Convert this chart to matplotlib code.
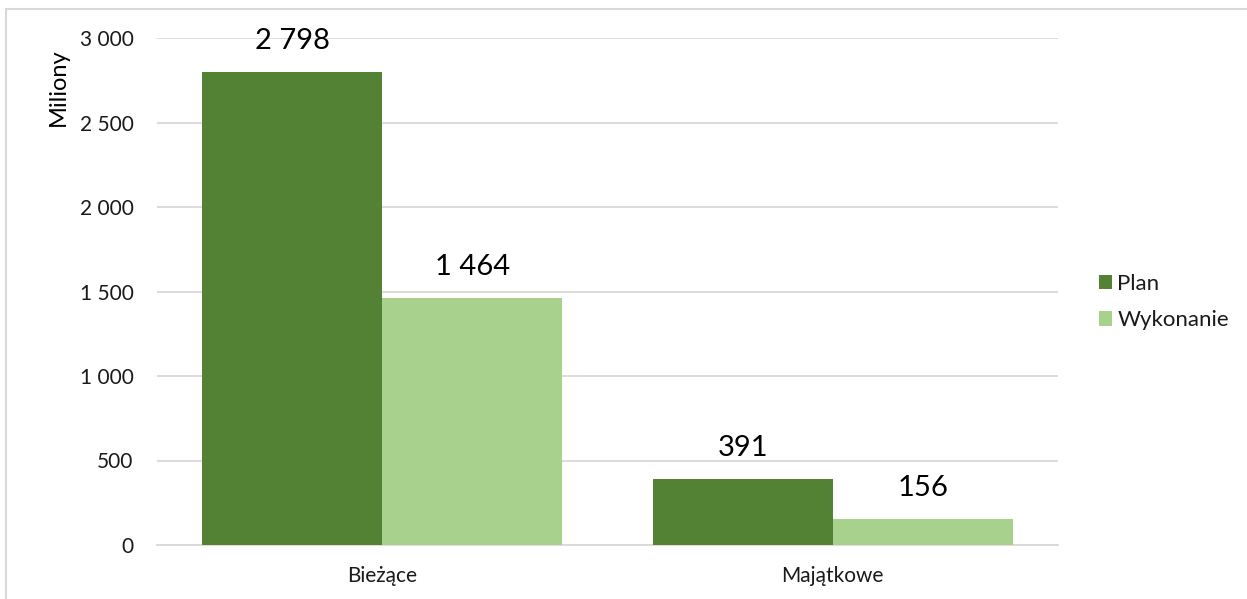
import matplotlib
matplotlib.use("Agg")
import matplotlib.pyplot as plt
from matplotlib.patches import Patch
from matplotlib.lines import Line2D
import numpy as np

categories = ["Bieżące", "Majątkowe"]
series_names = ["Plan", "Wykonanie"]
plan = [2798, 391]
wykonanie = [1464, 156]
yticks = [0, 500, 1000, 1500, 2000, 2500, 3000]
ylabel = "Miliony"

colors = ["#548235", "#A9D18E"]
plt.rcParams['font.family'] = ['Lato', 'DejaVu Sans']

W, H = 1247, 599
fig = plt.figure(figsize=(W / 100, H / 100), dpi=100)
ax = fig.add_axes([157 / W, 1 - 545 / H, (1058 - 157) / W, (545 - 38) / H])

x = np.arange(len(categories))
bw = 0.4
series = [plan, wykonanie]
for i, (name, vals) in enumerate(zip(series_names, series)):
    bars = ax.bar(x + (i - 0.5) * bw, vals, width=bw, color=colors[i], label=name, zorder=3)
    for b, v in zip(bars, vals):
        ax.annotate(f"{v:,}".replace(",", " "),
                    (b.get_x() + b.get_width() / 2, v),
                    xytext=(0, 13), textcoords="offset points",
                    ha="center", va="bottom", fontsize=21, color="#000000", zorder=4)

ax.set_xlim(-0.5, len(categories) - 0.5)
ax.set_ylim(0, 3000)
ax.set_yticks(yticks)
ax.set_yticklabels([f"{t:,}".replace(",", " ") for t in yticks])
ax.set_xticks(x)
ax.set_xticklabels(categories)
ax.tick_params(axis="both", length=0, labelsize=15, colors="#1a1a1a")
ax.tick_params(axis="y", pad=17)
ax.tick_params(axis="x", pad=15)
ax.grid(axis="y", color="#D9D9D9", linewidth=1.3, zorder=0)
for s in ["top", "right", "left"]:
    ax.spines[s].set_visible(False)
ax.spines["bottom"].set_color("#D9D9D9")
ax.spines["bottom"].set_linewidth(1.3)

fig.text(58 / W, 1 - 87 / H, ylabel, rotation=90, ha="center", va="center",
         fontsize=17, color="#000000")

handles = [Patch(facecolor=c, edgecolor="none") for c in colors]
fig.legend(handles, series_names, loc="center left",
           bbox_to_anchor=(1083 / W, 1 - 302 / H), frameon=False,
           fontsize=16, handlelength=0.6, handleheight=0.6,
           handletextpad=0.25, labelspacing=0.75, labelcolor="#1a1a1a",
           borderpad=0.2)

# outer chart border (cropped)
fig.add_artist(Line2D([6 / W, 1.0], [1 - 9 / H, 1 - 9 / H], color="#D9D9D9",
                      linewidth=1.5, transform=fig.transFigure))
fig.add_artist(Line2D([6 / W, 6 / W], [1 - 9 / H, 0], color="#D9D9D9",
                      linewidth=1.5, transform=fig.transFigure))

fig.savefig("out.png", dpi=100)
